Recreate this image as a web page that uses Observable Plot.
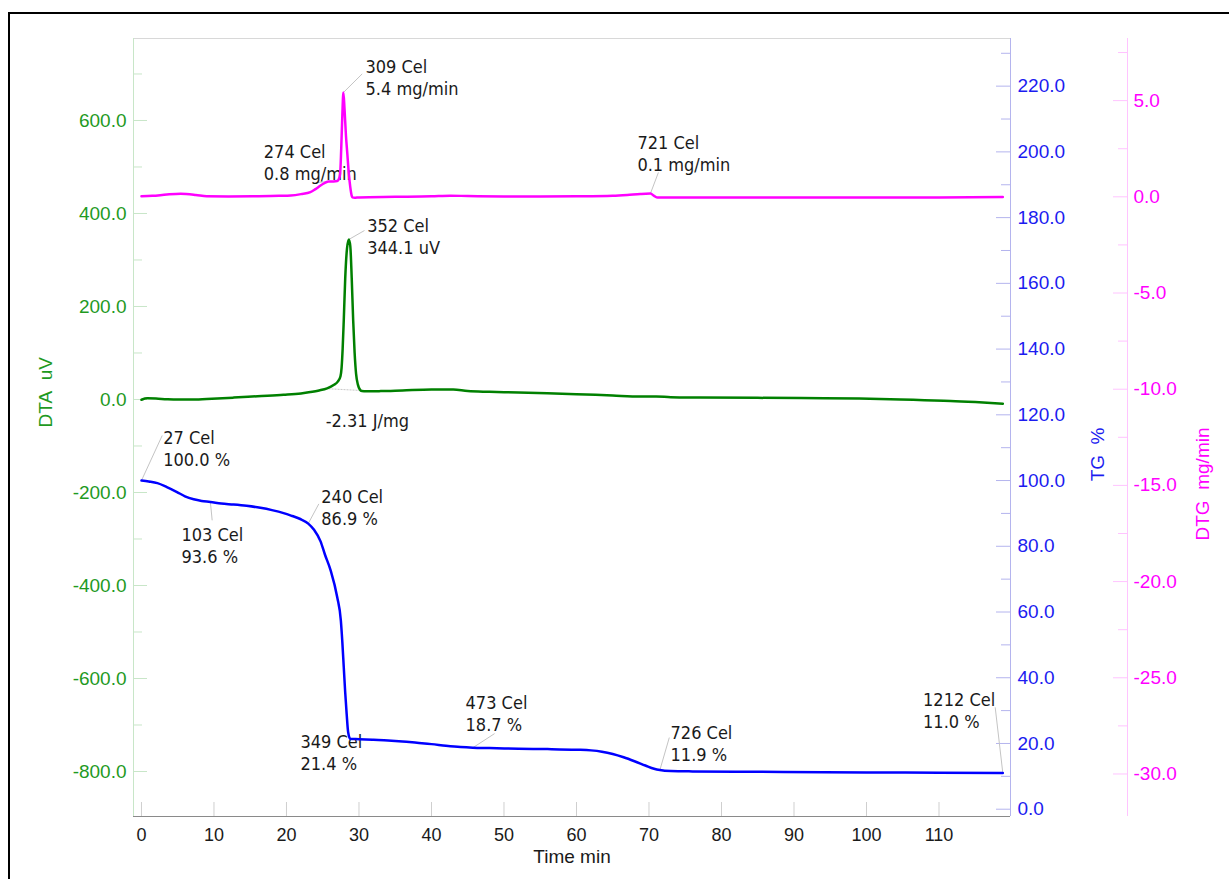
<!DOCTYPE html>
<html><head><meta charset="utf-8">
<script src="https://cdn.jsdelivr.net/npm/d3@7"></script>
<script src="https://cdn.jsdelivr.net/npm/@observablehq/plot@0.6"></script>
<style>
html,body{margin:0;padding:0;background:#fff;overflow:hidden;width:1229px;height:879px}
#border{position:absolute;left:8px;top:12px;width:1400px;height:1000px;border:2px solid #000;box-sizing:border-box}
#chart{position:absolute;left:0;top:0}
</style></head><body>
<div id="border"></div>
<div id="chart"></div>
<script>
// ---- data (time in min) ----
const dtgTime  = [0, 1.5, 3.5, 5.4, 7.5, 9, 12, 16, 19, 20.6, 22, 23.3, 24.0, 24.7, 25.3, 25.8, 26.5, 27.0, 27.2, 27.4, 27.55, 27.7, 27.85, 28.0, 28.2, 28.4, 28.6, 28.8, 29.0, 29.1, 29.4, 30, 35, 40, 42.6, 45, 50, 55, 60, 65, 67, 68.8, 70.2, 70.7, 71.2, 75, 80, 90, 100, 110, 118.8];
const dtgValue = [0.03, 0.05, 0.12, 0.16, 0.1, 0.03, 0.02, 0.03, 0.05, 0.07, 0.14, 0.24, 0.4, 0.59, 0.72, 0.8, 0.8, 0.82, 0.9, 1.2, 2.5, 4.2, 5.42, 4.6, 3.2, 2.2, 1.2, 0.5, 0.05, -0.03, -0.05, -0.03, 0.0, 0.03, 0.06, 0.04, 0.02, 0.02, 0.03, 0.06, 0.1, 0.15, 0.17, 0.05, -0.04, -0.04, -0.03, -0.04, -0.03, -0.03, -0.01];

const dtaTime  = [0, 0.8, 2, 3.5, 5, 6.8, 9, 12.7, 16, 19.6, 22, 23.3, 24.5, 25.6, 26.5, 27.1, 27.45, 27.6, 27.75, 27.9, 28.1, 28.35, 28.6, 28.8, 29.0, 29.2, 29.4, 29.6, 29.85, 30.1, 30.4, 31, 33, 36, 40, 43, 45, 48, 52, 56, 60, 65, 68.8, 71, 73, 77, 85, 91, 99, 104.7, 108, 111.6, 115, 118.8];
const dtaValue = [-0.5, 2.5, 2, 0.5, -0.3, -0.3, 1, 4, 7, 10, 13, 16, 19.5, 24, 31, 39, 50, 68, 110, 170, 260, 325, 344.1, 330, 260, 170, 100, 55, 32, 22, 18, 17.5, 18, 19.5, 21.5, 21.5, 18, 16.5, 15, 13.5, 11.5, 8.5, 6.5, 6.5, 5, 4.3, 3.5, 3.2, 2, 0, -1.5, -3, -5.5, -9];

const tgTime  = [0, 1, 2.2, 3.5, 4.9, 6, 7.2, 8.3, 9.5, 11, 12.7, 14.5, 16.4, 18, 19.6, 20.8, 21.9, 23, 23.8, 24.7, 25.3, 26.1, 27.0, 27.5, 27.7, 27.9, 28.1, 28.3, 28.5, 28.8, 30, 32, 34, 36, 38, 40, 42, 44, 45.7, 48, 52, 56, 60, 62, 63.5, 65, 66.5, 68, 69.5, 70.7, 71.5, 73, 76, 85, 100, 110, 118.8];
const tgValue = [100, 99.7, 99.2, 98, 96.5, 95.2, 94.3, 93.8, 93.5, 93.0, 92.7, 92.3, 91.7, 91.0, 90.1, 89.2, 88.3, 86.9, 85.0, 81.5, 77.5, 72.6, 64.5, 57.4, 51, 43.2, 35.5, 29, 23.5, 21.4, 21.3, 21.1, 20.9, 20.6, 20.2, 19.8, 19.3, 18.9, 18.7, 18.6, 18.4, 18.3, 18.1, 17.9, 17.5, 16.8, 15.8, 14.6, 13.3, 12.3, 11.9, 11.6, 11.5, 11.4, 11.2, 11.1, 11.0];

// ---- ticks ----
const xTicks   = [0, 10, 20, 30, 40, 50, 60, 70, 80, 90, 100, 110];
const dtaTicks = [-800, -600, -400, -200, 0, 200, 400, 600];
const dtaMinor = [-700, -500, -300, -100, 100, 300, 500, 700];
const tgTicks  = [0, 20, 40, 60, 80, 100, 120, 140, 160, 180, 200, 220];
const tgMinor  = [10, 30, 50, 70, 90, 110, 130, 150, 170, 190, 210, 230];
const dtgTicks = [-30, -25, -20, -15, -10, -5, 0, 5];
const dtgMinor = [-27.5, -22.5, -17.5, -12.5, -7.5, -2.5, 2.5, 7.5];

// ---- annotations ----
const annText   = ["309 Cel\n5.4 mg/min", "274 Cel\n0.8 mg/min", "721 Cel\n0.1 mg/min", "352 Cel\n344.1 uV", "-2.31 J/mg", "27 Cel\n100.0 %", "103 Cel\n93.6 %", "240 Cel\n86.9 %", "349 Cel\n21.4 %", "473 Cel\n18.7 %", "726 Cel\n11.9 %", "1212 Cel\n11.0 %"];
const annSeries = ["DTG", "DTG", "DTG", "DTA", "DTA", "TG", "TG", "TG", "TG", "TG", "TG", "TG"];
const annPointT = [27.85, 25.9, 70.2, 28.6, null, 0, 9.5, 23, 28.8, 45.7, 71.5, 118.8];
const annPointV = [5.42, 0.8, 0.17, 344.1, null, 100, 93.6, 86.9, 21.4, 18.7, 11.9, 11.0];
const annLeadT  = [30.44, 24.1, 71.3, 30.76, null, 2.86, 9.75, 24.46, null, 48.7, 72.8, 117.75];
const annLeadV  = [6.39, 0.74, 1.27, 363.4, null, 113.7, 87.9, 92.9, null, 23.0, 21.8, 31.0];
const annTextT  = [30.9, 16.87, 68.4, 31.13, 25.4, 2.99, 5.52, 24.8, 21.93, 44.7, 72.97, 107.8];
const annTextV  = [7.24, 2.84, 3.29, 394.6, -25.8, 115.8, 86.3, 98.0, 23.4, 35.2, 26.1, 36.1];
const peakBaseT = [25.8, 30.2];
const peakBaseV = [23, 19.4];

// ---- scales ----
const xDomain   = [-1.10, 119.86];
const dtaDomain = [-896.8, 776.3];
const tgDomain  = [-2.22, 234.5];
const dtgDomain = [-32.21, 8.229];
const lin = (a, b) => v => b[0] + (v - a[0]) / (a[1] - a[0]) * (b[1] - b[0]);
const tgY = lin(tgDomain, dtaDomain), yTg = lin(dtaDomain, tgDomain);
const dtgY = lin(dtgDomain, dtaDomain), yDtg = lin(dtaDomain, dtgDomain);
const toY = {DTA: v => v, TG: tgY, DTG: dtgY};
const f1 = v => { const r = Math.round(v * 10) / 10; return (Math.abs(r) < 1e-9 ? 0 : r).toFixed(1); };

const W = 1229, H = 879;
const M = {top: 38, right: 219, bottom: 63, left: 133};
const FW = W - M.left - M.right, FH = H - M.top - M.bottom;

const GREEN = "#008000", GREEN_T = "#1f9a1f", GREEN_L = "#c8e6c8";
const BLUE = "#0000ff", BLUE_T = "#1c1cf0", BLUE_L = "#b4b4ee";
const MAG = "#ff00ff", MAG_T = "#ff00ff", MAG_L = "#ffc4ff";
const ANN_FONT = "'DejaVu Sans Condensed', 'Liberation Sans', Arial, sans-serif";

const dta = dtaTime.map((t, i) => ({t, v: dtaValue[i]}));
const tg  = tgTime.map((t, i) => ({t, v: tgY(tgValue[i])}));
const dtg = dtgTime.map((t, i) => ({t, v: dtgY(dtgValue[i])}));

const ann = annText.map((text, i) => ({
  text,
  tx: annTextT[i], ty: toY[annSeries[i]](annTextV[i]),
  px: annPointT[i], py: annPointV[i] == null ? null : toY[annSeries[i]](annPointV[i]),
  lx: annLeadT[i], ly: annLeadV[i] == null ? null : toY[annSeries[i]](annLeadV[i])
}));
const leaders = ann.filter(d => d.lx != null);
const base = [{x1: peakBaseT[0], y1: peakBaseV[0], x2: peakBaseT[1], y2: peakBaseV[1]}];

const chart = Plot.plot({
  width: W, height: H,
  marginTop: M.top, marginRight: M.right, marginBottom: M.bottom, marginLeft: M.left,
  x: {domain: xDomain, axis: null},
  y: {domain: dtaDomain, axis: null},
  style: {fontFamily: "'Liberation Sans', Arial, sans-serif", fontSize: "19px", background: "transparent", overflow: "visible"},
  marks: [
    // frame lines
    Plot.ruleY([dtaDomain[1]], {stroke: "#d8d8d8"}),
    Plot.ruleX([xDomain[0]], {stroke: GREEN_L}),
    Plot.ruleX([xDomain[1]], {stroke: BLUE_L}),
    Plot.ruleX([xDomain[1]], {stroke: MAG_L, dx: 117}),
    // ticks
    Plot.tickX(xTicks, {x: d => d, stroke: "#cfcfcf", insetTop: FH - 14}),
    Plot.tickY(dtaTicks, {y: d => d, stroke: GREEN_L, insetRight: FW - 14}),
    Plot.tickY(dtaMinor, {y: d => d, stroke: GREEN_L, insetRight: FW - 9}),
    Plot.tickY(tgTicks.map(tgY), {y: d => d, stroke: BLUE_L, insetLeft: FW - 14}),
    Plot.tickY(tgMinor.map(tgY), {y: d => d, stroke: BLUE_L, insetLeft: FW - 9}),
    Plot.tickY(dtgTicks.map(dtgY), {y: d => d, stroke: MAG_L, insetLeft: FW - 14, dx: 117}),
    Plot.tickY(dtgMinor.map(dtgY), {y: d => d, stroke: MAG_L, insetLeft: FW - 9, dx: 117}),
    Plot.ruleY([dtaDomain[0]], {stroke: "#8a8a8a"}),
    // tick labels
    Plot.axisX(xTicks, {anchor: "bottom", tickSize: 0, tickPadding: 12, tickFormat: d => String(d), fill: "#1a1a1a", fontSize: 18}),
    Plot.axisY(dtaTicks, {anchor: "left", tickSize: 0, tickPadding: 7, tickFormat: f1, fill: GREEN_T, fontSize: 19}),
    Plot.axisY(tgTicks.map(tgY), {anchor: "right", tickSize: 0, tickPadding: 7, tickFormat: d => f1(yTg(d)), fill: BLUE_T, fontSize: 19}),
    Plot.axisY(dtgTicks.map(dtgY), {anchor: "right", tickSize: 0, tickPadding: 6, dx: 117, tickFormat: d => f1(yDtg(d)), fill: MAG_T, fontSize: 19}),
    // axis titles
    Plot.text(["Time min"], {text: d => d, frameAnchor: "bottom", lineAnchor: "top", dy: 33, fill: "#1a1a1a", fontSize: 19}),
    Plot.text(["DTA\u00a0\u00a0uV"], {text: d => d, frameAnchor: "left", rotate: -90, dx: -88, fill: GREEN_T, fontSize: 19}),
    Plot.text(["TG\u00a0\u00a0%"], {text: d => d, frameAnchor: "right", rotate: -90, dx: 87, fill: BLUE_T, fontSize: 19}),
    Plot.text(["DTG\u00a0\u00a0mg/min"], {text: d => d, frameAnchor: "right", rotate: -90, dx: 192, fill: MAG_T, fontSize: 19}),
    // annotations
    Plot.link(base, {x1: "x1", y1: "y1", x2: "x2", y2: "y2", stroke: "#c8c8c8", strokeWidth: 1, strokeDasharray: "2,1"}),
    Plot.link(leaders, {x1: "px", y1: "py", x2: "lx", y2: "ly", stroke: "#c4c4c4", strokeWidth: 1}),
    Plot.text(ann, {x: "tx", y: "ty", text: "text", textAnchor: "start", lineAnchor: "top", lineHeight: 1.22, fontSize: 18, fontFamily: ANN_FONT, fill: "#1a1a1a"}),
    // curves
    Plot.line(dtg, {x: "t", y: "v", stroke: MAG, strokeWidth: 2.5, curve: "monotone-x"}),
    Plot.line(dta, {x: "t", y: "v", stroke: GREEN, strokeWidth: 2.5, curve: "monotone-x"}),
    Plot.line(tg, {x: "t", y: "v", stroke: BLUE, strokeWidth: 2.5, curve: "monotone-x"})
  ]
});
document.getElementById("chart").appendChild(chart);
</script></body></html>
